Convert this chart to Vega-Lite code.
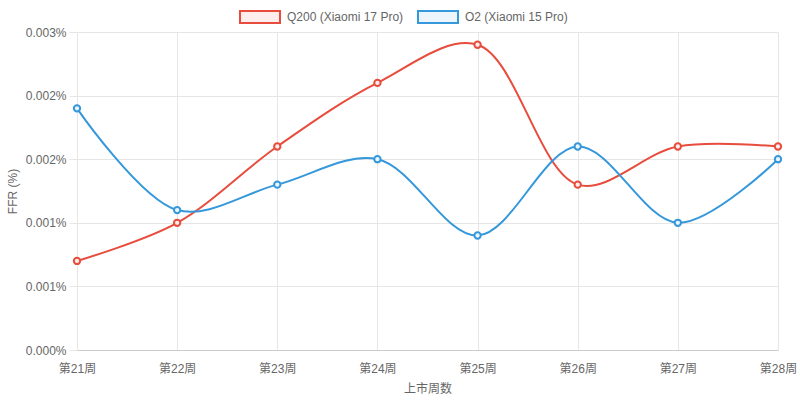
{
  "$schema": "https://vega.github.io/schema/vega-lite/v6.json",
  "width": 701,
  "height": 318,
  "autosize": {"type": "none"},
  "padding": {"left": 77, "top": 32, "right": 22, "bottom": 51},
  "background": "white",
  "config": {
    "font": "Liberation Sans",
    "view": {"stroke": null},
    "axis": {"labelFont": "Liberation Sans", "titleFont": "Liberation Sans", "labelColor": "#666666", "titleColor": "#666666", "labelFontSize": 12, "titleFontSize": 12, "titleFontWeight": "normal", "gridColor": "#e6e6e6", "gridWidth": 1}
  },
  "data": {"values": [
    {"week": "第21周", "series": "Q200 (Xiaomi 17 Pro)", "ffr": 0.0007},
    {"week": "第22周", "series": "Q200 (Xiaomi 17 Pro)", "ffr": 0.0010},
    {"week": "第23周", "series": "Q200 (Xiaomi 17 Pro)", "ffr": 0.0016},
    {"week": "第24周", "series": "Q200 (Xiaomi 17 Pro)", "ffr": 0.0021},
    {"week": "第25周", "series": "Q200 (Xiaomi 17 Pro)", "ffr": 0.0024},
    {"week": "第26周", "series": "Q200 (Xiaomi 17 Pro)", "ffr": 0.0013},
    {"week": "第27周", "series": "Q200 (Xiaomi 17 Pro)", "ffr": 0.0016},
    {"week": "第28周", "series": "Q200 (Xiaomi 17 Pro)", "ffr": 0.0016},
    {"week": "第21周", "series": "O2 (Xiaomi 15 Pro)", "ffr": 0.0019},
    {"week": "第22周", "series": "O2 (Xiaomi 15 Pro)", "ffr": 0.0011},
    {"week": "第23周", "series": "O2 (Xiaomi 15 Pro)", "ffr": 0.0013},
    {"week": "第24周", "series": "O2 (Xiaomi 15 Pro)", "ffr": 0.0015},
    {"week": "第25周", "series": "O2 (Xiaomi 15 Pro)", "ffr": 0.0009},
    {"week": "第26周", "series": "O2 (Xiaomi 15 Pro)", "ffr": 0.0016},
    {"week": "第27周", "series": "O2 (Xiaomi 15 Pro)", "ffr": 0.0010},
    {"week": "第28周", "series": "O2 (Xiaomi 15 Pro)", "ffr": 0.0015}
  ]},
  "encoding": {
    "x": {"field": "week", "type": "ordinal", "scale": {"type": "point", "padding": 0},
      "axis": {"title": "上市周数", "labelAngle": 0, "ticks": false, "labelPadding": 13, "titlePadding": 9, "grid": true, "domainColor": "#cccccc", "labelFont": "Liberation Sans, Noto Sans CJK SC", "titleFont": "Liberation Sans, Noto Sans CJK SC"}},
    "y": {"field": "ffr", "type": "quantitative", "scale": {"domain": [0, 0.0025], "nice": false},
      "axis": {"title": "FFR (%)", "values": [0, 0.0005, 0.001, 0.0015, 0.002, 0.0025], "labelExpr": "format(datum.value, '.3f') + '%'", "tickSize": 8, "tickColor": "#e6e6e6", "labelPadding": 3, "titlePadding": 6, "domainColor": "#e6e6e6", "grid": true}},
    "stroke": {"field": "series", "type": "nominal",
      "scale": {"domain": ["Q200 (Xiaomi 17 Pro)", "O2 (Xiaomi 15 Pro)"], "range": ["#e74c3c", "#3498db"]},
      "legend": {"title": null, "orient": "none", "legendX": 162, "legendY": -36, "direction": "horizontal", "symbolType": "M-1,-0.3H1V0.3H-1Z", "symbolSize": 1600, "symbolStrokeWidth": 2, "labelFont": "Liberation Sans", "labelFontSize": 12, "labelColor": "#666666", "labelOffset": 6, "columnPadding": 10, "symbolOpacity": 1}}
  },
  "layer": [
    {"mark": {"type": "line", "interpolate": "catmull-rom", "strokeWidth": 2}},
    {"mark": {"type": "point", "filled": false, "size": 40, "strokeWidth": 2, "opacity": 1},
      "encoding": {"fill": {"field": "series", "type": "nominal",
        "scale": {"domain": ["Q200 (Xiaomi 17 Pro)", "O2 (Xiaomi 15 Pro)"], "range": ["#fdedec", "#ebf5fb"]},
        "legend": {"title": null, "orient": "none", "legendX": 162, "legendY": -36, "direction": "horizontal", "symbolType": "M-1,-0.3H1V0.3H-1Z", "symbolSize": 1600, "symbolStrokeWidth": 2, "labelFontSize": 12, "labelColor": "#666666", "labelOffset": 6, "columnPadding": 10}}}}
  ]
}
